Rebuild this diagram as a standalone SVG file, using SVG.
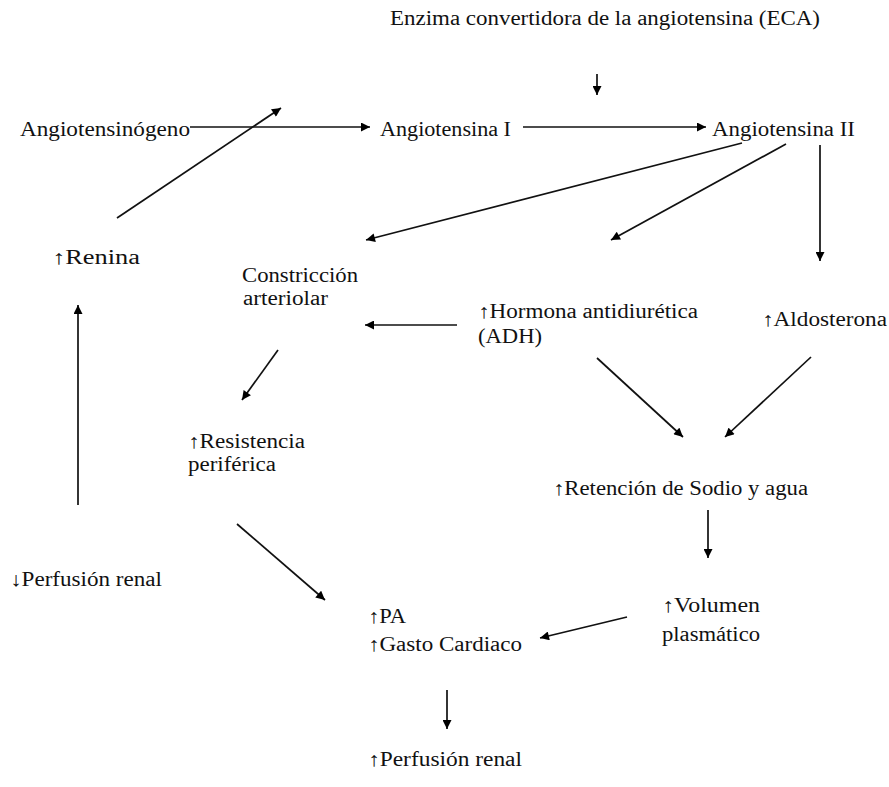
<svg xmlns="http://www.w3.org/2000/svg" width="889" height="787" viewBox="0 0 889 787">
<defs>
<marker id="ah" viewBox="0 0 10 10" refX="10" refY="5" markerWidth="10" markerHeight="9" markerUnits="userSpaceOnUse" orient="auto">
<path d="M0,0 L10,5 L0,10 z" fill="#000"/>
</marker>
<style>
text{font-family:"Liberation Serif","Times New Roman",serif;font-size:20px;fill:#111;}
.c line{stroke:#111;stroke-width:1.7;marker-end:url(#ah);}
</style>
</defs>
<rect width="889" height="787" fill="#fff"/>
<g class="c" id="connectors">
<line x1="597" y1="74" x2="597" y2="95"/>
<line x1="190" y1="127" x2="370" y2="127"/>
<line x1="523" y1="127" x2="706" y2="127"/>
<line x1="117" y1="218" x2="281" y2="108"/>
<line x1="742" y1="143" x2="366" y2="240"/>
<line x1="786" y1="144" x2="611" y2="240"/>
<line x1="820" y1="145" x2="820" y2="261"/>
<line x1="457" y1="325" x2="365" y2="325"/>
<line x1="278" y1="350" x2="242" y2="400"/>
<line x1="597" y1="358" x2="683" y2="437"/>
<line x1="811" y1="357" x2="725" y2="437"/>
<line x1="708" y1="510" x2="708" y2="558"/>
<line x1="78" y1="505" x2="78" y2="305"/>
<line x1="237" y1="524" x2="325" y2="600"/>
<line x1="627" y1="617" x2="540" y2="638"/>
<line x1="447" y1="690" x2="447" y2="729"/>
</g>
<g id="eca"><text x="390" y="25" textLength="430" lengthAdjust="spacingAndGlyphs">Enzima convertidora de la angiotensina (ECA)</text></g>
<g id="angiotensinogeno"><text x="20" y="136" textLength="170" lengthAdjust="spacingAndGlyphs">Angiotensinógeno</text></g>
<g id="angiotensina1"><text x="380" y="136" textLength="131" lengthAdjust="spacingAndGlyphs">Angiotensina I</text></g>
<g id="angiotensina2"><text x="712" y="136" textLength="143" lengthAdjust="spacingAndGlyphs">Angiotensina II</text></g>
<g id="renina"><text x="52" y="264" textLength="88" lengthAdjust="spacingAndGlyphs">↑Renina</text></g>
<g id="constriccion"><text x="242" y="282" textLength="116" lengthAdjust="spacingAndGlyphs">Constricción</text><text x="243" y="305" textLength="85" lengthAdjust="spacingAndGlyphs">arteriolar</text></g>
<g id="adh"><text x="478" y="318" textLength="220" lengthAdjust="spacingAndGlyphs">↑Hormona antidiurética</text><text x="478" y="343" textLength="64" lengthAdjust="spacingAndGlyphs">(ADH)</text></g>
<g id="aldosterona"><text x="762" y="326" textLength="125" lengthAdjust="spacingAndGlyphs">↑Aldosterona</text></g>
<g id="resistencia"><text x="188" y="448" textLength="117" lengthAdjust="spacingAndGlyphs">↑Resistencia</text><text x="188" y="471" textLength="88" lengthAdjust="spacingAndGlyphs">periférica</text></g>
<g id="retencion"><text x="553" y="495" textLength="255" lengthAdjust="spacingAndGlyphs">↑Retención de Sodio y agua</text></g>
<g id="perfusion-baja"><text x="10" y="586" textLength="152" lengthAdjust="spacingAndGlyphs">↓Perfusión renal</text></g>
<g id="pa"><text x="368" y="623" textLength="38" lengthAdjust="spacingAndGlyphs">↑PA</text><text x="368" y="651" textLength="154" lengthAdjust="spacingAndGlyphs">↑Gasto Cardiaco</text></g>
<g id="volumen"><text x="662" y="612" textLength="98" lengthAdjust="spacingAndGlyphs">↑Volumen</text><text x="662" y="641" textLength="98" lengthAdjust="spacingAndGlyphs">plasmático</text></g>
<g id="perfusion-alta"><text x="368" y="766" textLength="154" lengthAdjust="spacingAndGlyphs">↑Perfusión renal</text></g>
</svg>
